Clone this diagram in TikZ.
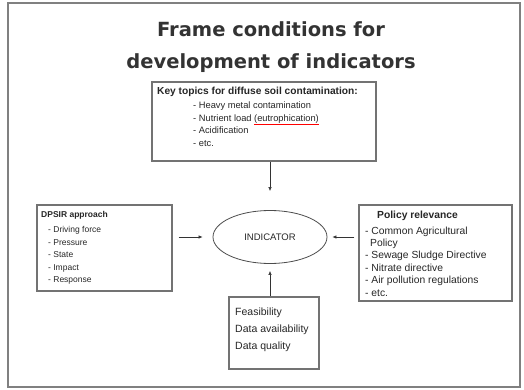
\documentclass[tikz,border=0pt]{standalone}
\usepackage{fontspec}
\setmainfont{Liberation Sans}
\newfontfamily\titlefont{DejaVu Sans}
\usetikzlibrary{shapes.geometric,arrows.meta}
\tikzset{
  frame/.style={draw=black!55, line width=1.2pt},
  txt/.style={anchor=north west, align=left, inner sep=0pt, text=black!85,
    font=\fontsize{8.5}{12.5}\selectfont},
  arr/.style={draw=black!80, line width=0.6pt, -{Latex[length=4pt,width=3.5pt]}}
}
\begin{document}
\begin{tikzpicture}[x=1pt,y=-1pt]
\useasboundingbox (0,0) rectangle (524,390);
\draw[black!50, line width=1.5pt] (8,3) rectangle (520,387);
\node[align=center, text=black!80, font=\titlefont\bfseries\fontsize{19.5}{32}\selectfont] (title) at (271,47)
  {Frame conditions for\\development of indicators};
% boxes
\node[frame, minimum width=224pt, minimum height=79pt] (topics) at (264,121.5) {};
\node[frame, minimum width=135pt, minimum height=86pt] (dpsir) at (104.5,248) {};
\node[frame, minimum width=153pt, minimum height=96pt] (policy) at (435.5,253) {};
\node[frame, minimum width=90pt, minimum height=72pt] (data) at (274,333) {};
\node[ellipse, draw=black!70, line width=0.8pt, minimum width=114pt, minimum height=53pt,
  text=black!85, font=\fontsize{9.5}{11}\selectfont] (ind) at (270,237) {INDICATOR};
% texts
\node[txt, font=\fontsize{9.3}{12.8}\selectfont] (topicstxt) at (157,87) {{\fontsize{10.2}{12}\selectfont\textbf{Key topics for diffuse soil contamination:}}\\[1pt]
  \hspace*{36pt}- Heavy metal contamination\\
  \hspace*{36pt}- Nutrient load {\color{red}\underline{\textcolor{black!85}{(eutrophication)}}}\\
  \hspace*{36pt}- Acidification\\
  \hspace*{36pt}- etc.};
\node[txt] (dpsirtxt) at (41,211) {\textbf{DPSIR approach}\\[3pt]
  \hspace*{7pt}- Driving force\\
  \hspace*{7pt}- Pressure\\
  \hspace*{7pt}- State\\
  \hspace*{7pt}- Impact\\
  \hspace*{7pt}- Response};
\node[txt, font=\fontsize{10.3}{12.4}\selectfont] (policytxt) at (365,211) {\hspace*{12pt}\textbf{Policy relevance}\\[3pt]
  - Common Agricultural\\
  \hspace*{5pt}Policy\\
  - Sewage Sludge Directive\\
  - Nitrate directive\\
  - Air pollution regulations\\
  - etc.};
\node[txt, font=\fontsize{10.5}{17}\selectfont] (datatxt) at (235,308) {Feasibility\\Data availability\\Data quality};
% arrows
\draw[arr, shorten >=19pt] (topics.south -| ind.north) -- (ind.north);
\draw[arr, shorten <=6pt, shorten >=10pt] (dpsir.east |- ind.west) -- (ind.west);
\draw[arr, shorten <=4pt, shorten >=5pt] (policy.west |- ind.east) -- (ind.east);
\draw[arr, shorten >=7pt] (data.north -| ind.south) -- (ind.south);
\end{tikzpicture}
\end{document}
